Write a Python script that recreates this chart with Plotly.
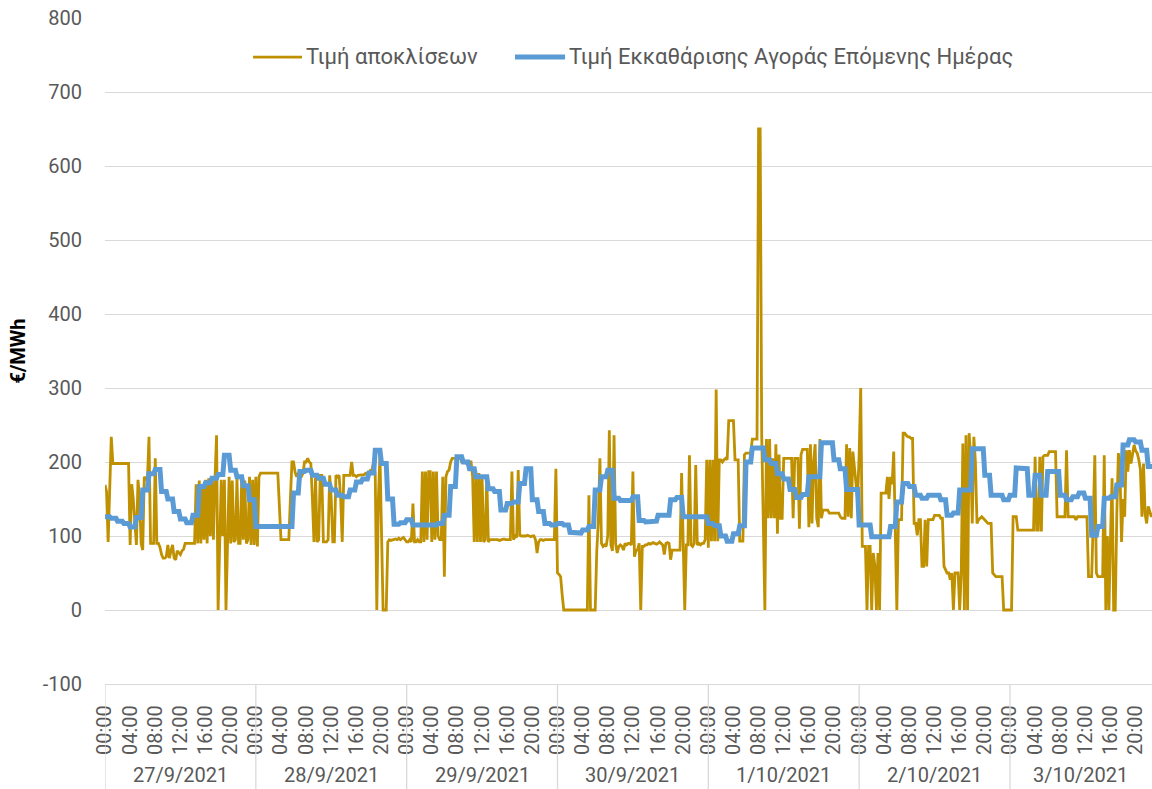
import plotly.graph_objects as go

# ---------------- data ----------------
day_labels = ["27/9/2021", "28/9/2021", "29/9/2021", "30/9/2021", "1/10/2021", "2/10/2021", "3/10/2021"]
hour_labels = ["00:00", "04:00", "08:00", "12:00", "16:00", "20:00"]
y_ticks = [-100, 0, 100, 200, 300, 400, 500, 600, 700, 800]
y_tick_labels = ["-100", "0", "100", "200", "300", "400", "500", "600", "700", "800"]

# Imbalance price (15-minute values), one list per day
gold_d1 = [169, 160, 92, 150, 234, 198, 198, 198, 198, 198, 198, 198, 198, 198, 198, 198,
           88, 170, 150, 120, 88, 176, 150, 90, 81, 180, 178, 175,
           234, 90, 90, 90, 205, 90, 90, 85, 75, 70, 70, 72,
           88, 70, 80, 88, 70, 68, 80, 78, 75, 80, 82, 90,
           90, 90, 90, 90, 90, 90,
           170, 90, 175, 90, 170, 95, 176, 90, 178, 100, 180, 95,
           176, 236, 0, 90, 176, 100, 176, 0, 95, 180,
           90, 175, 92, 95, 178, 90, 90, 176, 95, 175, 90, 95, 180, 88, 176, 88]
gold_d2 = [180, 86, 180, 185, 185, 185, 185, 185, 185, 185, 185, 185, 185, 185, 185, 140,
           95, 95, 95, 95, 95, 95,
           150, 200, 200, 186, 180, 185, 178, 180, 185, 200, 200, 205, 200, 198,
           150, 92, 182, 92, 95, 182, 182, 92, 92, 92, 95, 182,
           150, 92, 92, 182, 180, 182, 150, 92, 182, 182, 182, 182,
           182, 200, 182, 182, 180, 182, 182, 183, 182, 183, 185, 185,
           185, 189, 190, 200, 185, 0, 150, 210, 100, 0, 0, 0,
           92, 95, 94, 95, 95, 96, 95, 97, 95, 96, 98, 95]
gold_d3 = [92, 92, 95, 92, 144, 92, 92, 95, 92, 92,
           187, 92, 187, 95, 187, 187, 92, 187, 95, 187, 100, 95,
           95, 180, 45, 180, 187, 189, 200, 205, 205, 205, 203, 205,
           207, 200, 200, 200, 198, 200, 200, 200, 180, 92, 180, 92,
           185, 92, 180, 92, 95, 180, 92, 95, 95, 95, 95, 96,
           95, 94, 95, 95, 96, 95, 95, 95, 95, 187, 95, 100,
           98, 189, 101, 100, 100, 99, 100, 101, 100, 99, 100, 100,
           95, 77, 92, 95, 95, 94, 95, 95, 96, 95, 95, 95, 95, 191]
gold_d4 = [50, 48, 45, 20, 0, 0, 0, 0, 0, 0, 0, 0,
           0, 0, 0, 0, 0, 0, 0, 0, 155, 0, 0, 0,
           0, 79, 120, 205, 90, 86, 88, 86, 100, 243, 88, 80,
           236, 90, 77, 86, 88, 86, 81, 90, 88, 90, 90, 88,
           187, 72, 81, 81, 90, 0, 86, 86, 88, 88, 90, 89,
           90, 91, 90, 89, 90, 92, 90, 88, 75, 90, 91, 90,
           68, 81, 81, 81, 81, 81, 81, 185, 90, 0, 88, 88,
           209, 88, 86, 90, 196, 88, 90, 88, 90, 90, 95, 203]
gold_d5 = [84, 203, 93, 203, 93, 298, 93, 203, 203, 200, 203, 205,
           203, 256, 256, 256, 256, 203, 203, 203, 93, 93, 93, 210,
           212, 212, 212, 212, 231, 231, 231, 231, 650, 650, 235, 120,
           0, 231, 124, 231, 124, 205, 124, 224, 103, 210, 124, 124,
           205, 205, 205, 205, 205, 205, 124, 205, 205, 205, 110, 210,
           217, 217, 217, 217, 112, 224, 117, 200, 224, 124, 112, 231,
           124, 135, 135, 135, 135, 131, 131, 131, 131, 131, 131, 131,
           126, 124, 124, 124, 224, 126, 219, 124, 214, 190, 163, 150]
gold_d6 = [210, 300, 86, 86, 86, 0, 86, 86, 0, 77, 60, 0,
           77, 0, 158, 158, 158, 158, 180, 150, 180, 170, 214, 120,
           0, 122, 122, 122, 239, 239, 236, 234, 234, 232, 232, 117,
           117, 101, 122, 122, 59, 59, 122, 59, 122, 122, 122, 122,
           128, 128, 128, 128, 124, 124, 59, 55, 50, 50, 41, 50,
           0, 50, 50, 50, 0, 50, 225, 0, 236, 0, 239, 207,
           117, 234, 200, 117, 122, 124, 126, 124, 122, 120, 117, 117,
           117, 50, 48, 45, 45, 45, 45, 45, 0, 0, 0, 0]
gold_d7 = [0, 0, 126, 126, 126, 108, 108, 108, 108, 108, 108, 108,
           108, 108, 108, 108, 207, 108, 108, 207, 106, 207, 209, 209,
           209, 214, 214, 214, 214, 214, 126, 126, 126, 126, 126, 126,
           216, 126, 126, 126, 126, 126, 122, 126, 126, 126, 126, 126,
           126, 126, 45, 45, 45, 120, 209, 50, 45, 45, 45, 45,
           209, 0, 100, 0, 100, 178, 0, 0, 130, 212, 190, 92,
           150, 126, 216, 187, 216, 198, 210, 223, 215, 212, 203, 190,
           126, 198, 130, 117, 140, 131, 126, 130, 128]

# Day-ahead market clearing price (hourly values), one list per day
blue_d1 = [126, 124, 120, 117, 112, 125, 162, 184, 190, 160, 150, 133, 123, 118, 128, 167, 172, 178, 183, 209, 189, 180, 168, 149]
blue_d2 = [113, 113, 113, 113, 113, 113, 158, 187, 189, 182, 178, 170, 162, 155, 153, 162, 173, 177, 185, 216, 198, 150, 116, 118]
blue_d3 = [122, 115, 115, 115, 115, 117, 128, 167, 207, 200, 191, 180, 180, 164, 160, 135, 144, 146, 171, 191, 149, 133, 117, 115]
blue_d4 = [117, 115, 105, 104, 108, 113, 162, 180, 189, 151, 148, 148, 153, 121, 119, 120, 128, 128, 149, 152, 126, 126, 126, 126]
blue_d5 = [117, 114, 100, 93, 103, 114, 200, 219, 219, 203, 198, 184, 177, 163, 152, 156, 180, 180, 226, 226, 203, 191, 163, 163]
blue_d6 = [115, 115, 99, 99, 99, 113, 146, 171, 167, 155, 151, 155, 155, 149, 128, 131, 162, 162, 218, 218, 182, 155, 155, 149]
blue_d7 = [155, 192, 191, 155, 182, 155, 187, 187, 155, 149, 153, 158, 151, 101, 113, 151, 153, 169, 223, 230, 227, 216, 194]

series_gold_name = "Τιμή αποκλίσεων"
series_blue_name = "Τιμή Εκκαθάρισης Αγοράς Επόμενης Ημέρας"

# ---------------- build series on an hours-since-start axis ----------------
gold_days = [gold_d1, gold_d2, gold_d3, gold_d4, gold_d5, gold_d6, gold_d7]
blue_days = [blue_d1, blue_d2, blue_d3, blue_d4, blue_d5, blue_d6, blue_d7]

gx, gy = [], []
for d, vals in enumerate(gold_days):
    for q, v in enumerate(vals):
        gx.append(d * 24 + q * 0.25)
        gy.append(v)

bx, by = [], []
for d, vals in enumerate(blue_days):
    for h, v in enumerate(vals):
        for q in range(4):  # hourly price holds for each quarter of the hour
            bx.append(d * 24 + h + q * 0.25)
            by.append(v)

GOLD = "#BF9000"
BLUE = "#5B9BD5"
GRID = "#D9D9D9"
TXT = "#595959"
FONT = "Roboto"
GOLD_W = 2.8
BLUE_W = 5

fig = go.Figure()
fig.add_trace(go.Scatter(x=gx, y=gy, mode="lines", name=series_gold_name, showlegend=False,
                         line=dict(color=GOLD, width=GOLD_W)))
fig.add_trace(go.Scatter(x=bx, y=by, mode="lines", name=series_blue_name, showlegend=False,
                         line=dict(color=BLUE, width=BLUE_W)))

X_END = 166.6
tickvals, ticktext = [], []
for d in range(len(day_labels)):
    for i, lab in enumerate(hour_labels):
        t = d * 24 + i * 4
        if t <= X_END:
            tickvals.append(t)
            ticktext.append(lab)

fig.update_layout(
    width=1152, height=789,
    margin=dict(l=105, r=0, t=18, b=105),
    paper_bgcolor="white", plot_bgcolor="white",
    font=dict(family=FONT, size=20, color=TXT),
    xaxis=dict(range=[0, X_END], tickmode="array", tickvals=tickvals, ticktext=ticktext,
               tickangle=-90, tickfont=dict(family=FONT, size=20, color=TXT),
               ticks="outside", ticklen=12, tickcolor="rgba(0,0,0,0)",
               showgrid=False, zeroline=False, showline=True, linecolor=GRID, linewidth=1.3),
    yaxis=dict(range=[-100, 800], tickmode="array", tickvals=y_ticks, ticktext=y_tick_labels,
               tickfont=dict(family=FONT, size=20, color=TXT),
               ticks="outside", ticklen=18, tickcolor="rgba(0,0,0,0)",
               showgrid=True, gridcolor=GRID, gridwidth=1.3, zeroline=False, showline=False,
               title=dict(text="€/MWh", standoff=11,
                          font=dict(family=FONT, size=20, color="black", weight="bold"))),
)

# legend at top (line sample + label for each series)
LEG_Y = 0.9414
legend_items = [
    (series_gold_name, GOLD, GOLD_W, 0.1414, 0.1882),
    (series_blue_name, BLUE, BLUE_W, 0.3916, 0.4394),
]
for name, color, w, xa, xb in legend_items:
    fig.add_shape(type="line", xref="paper", yref="paper", x0=xa, x1=xb, y0=LEG_Y, y1=LEG_Y,
                  line=dict(color=color, width=w))
    fig.add_annotation(x=xb + 0.0015, xref="paper", y=LEG_Y + 0.001, yref="paper", text=name,
                       showarrow=False, xanchor="left", yanchor="middle",
                       font=dict(family=FONT, size=22, color=TXT))

# day group separators and date labels under the time ticks
for d, lab in enumerate(day_labels):
    start = d * 24
    fig.add_shape(type="line", xref="x", yref="paper", x0=start, x1=start, y0=0, y1=-0.16,
                  line=dict(color=GRID, width=1.3))
    center = (start + min(start + 24, X_END)) / 2
    fig.add_annotation(x=center, xref="x", y=-0.1366, yref="paper", text=lab, showarrow=False,
                       xanchor="center", yanchor="middle",
                       font=dict(family=FONT, size=20, color=TXT))

fig.write_html("out.html", config={"displayModeBar": False},
               post_script="document.body.style.margin='0';")
